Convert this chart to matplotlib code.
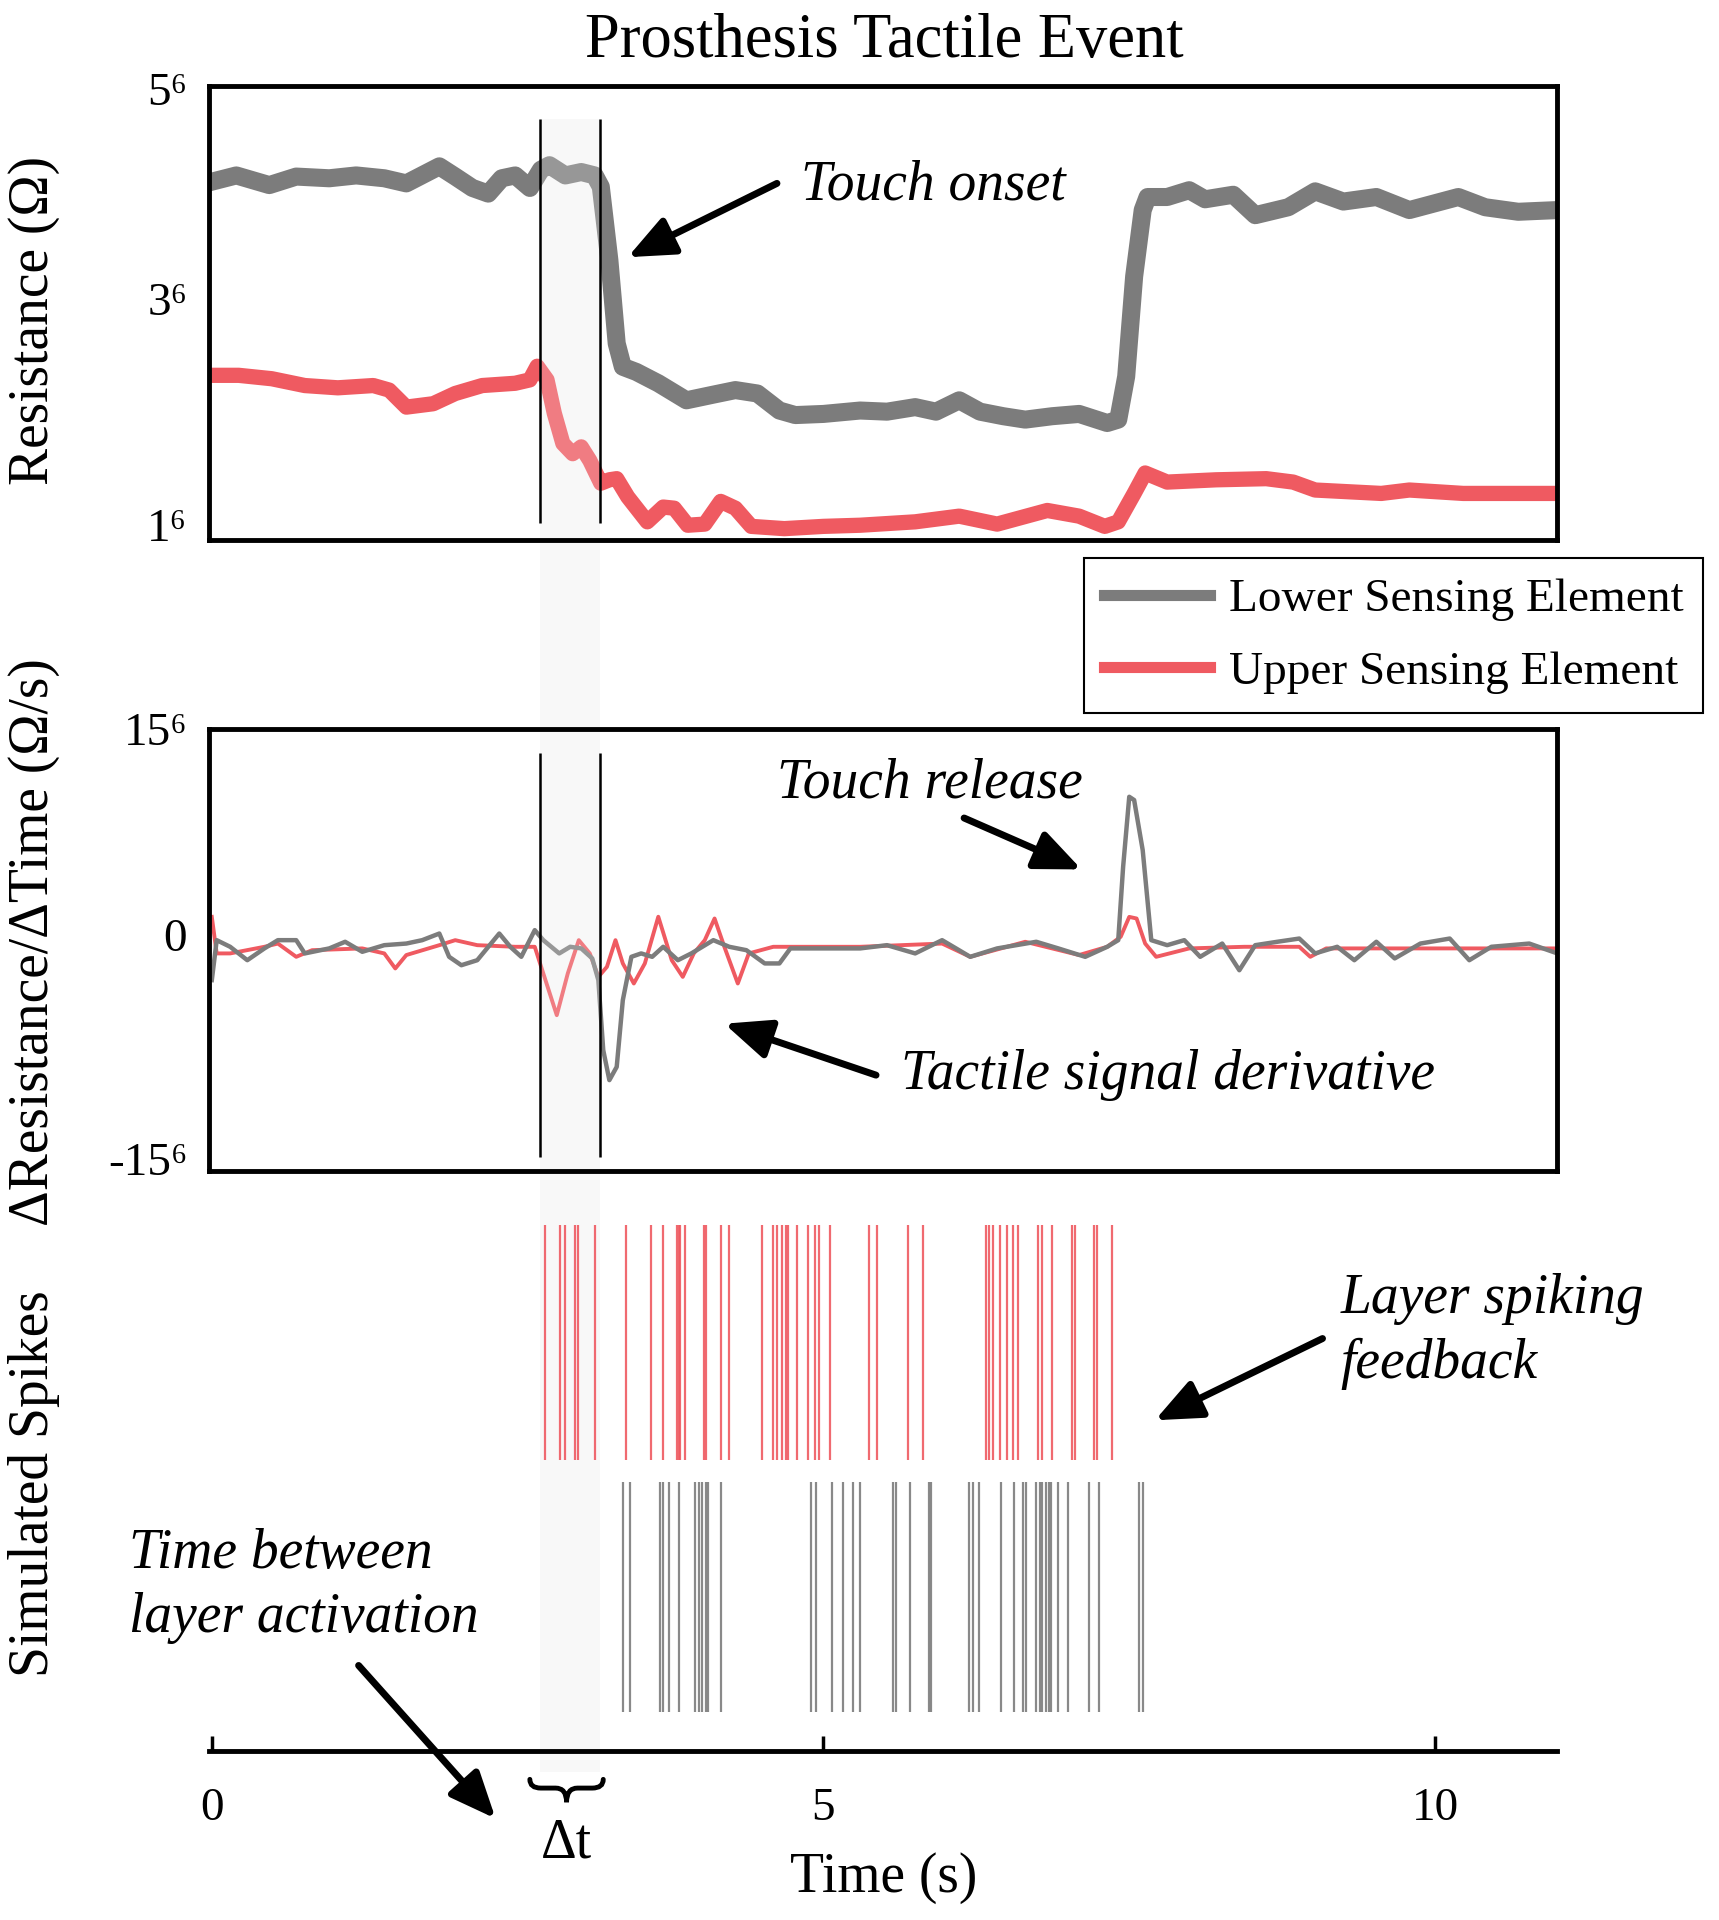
import matplotlib
matplotlib.use("Agg")
import matplotlib.pyplot as plt
import matplotlib.transforms as mtransforms
from matplotlib.lines import Line2D
from matplotlib.patches import Rectangle, PathPatch
from matplotlib.path import Path

plt.rcParams['font.family'] = ['Liberation Serif', 'DejaVu Serif']

# ---- data ----
# resistance traces (time in s, resistance in the axis' own units)
t_lower = [0.0, 0.20, 0.47, 0.69, 0.96, 1.18, 1.41, 1.59, 1.86, 1.99, 2.13, 2.26, 2.37, 2.48, 2.60, 2.69,
           2.76, 2.89, 3.02, 3.13, 3.18, 3.25, 3.31, 3.36, 3.47, 3.65, 3.88, 4.10, 4.28, 4.46, 4.64, 4.77,
           5.00, 5.30, 5.52, 5.75, 5.92, 6.11, 6.28, 6.47, 6.65, 6.87, 7.09, 7.32, 7.41, 7.475, 7.54, 7.61,
           7.65, 7.81, 7.99, 8.12, 8.35, 8.53, 8.80, 9.02, 9.25, 9.52, 9.79, 10.19, 10.41, 10.68, 11.0]
r_lower = [4.155, 4.21, 4.125, 4.20, 4.185, 4.21, 4.185, 4.14, 4.29, 4.20, 4.10, 4.05, 4.185, 4.21, 4.10, 4.26,
           4.30, 4.21, 4.24, 4.21, 4.11, 3.465, 2.73, 2.525, 2.48, 2.38, 2.23, 2.28, 2.32, 2.29, 2.14, 2.10,
           2.11, 2.14, 2.13, 2.17, 2.13, 2.23, 2.13, 2.09, 2.06, 2.09, 2.11, 2.03, 2.06, 2.44, 3.32, 3.905,
           4.02, 4.02, 4.08, 4.00, 4.04, 3.86, 3.93, 4.07, 3.98, 4.02, 3.905, 4.02, 3.93, 3.89, 3.905]

t_upper = [0.0, 0.22, 0.49, 0.76, 1.03, 1.32, 1.45, 1.59, 1.81, 1.99, 2.21, 2.48, 2.60, 2.66, 2.74, 2.80,
           2.87, 2.95, 3.02, 3.09, 3.18, 3.25, 3.31, 3.40, 3.56, 3.69, 3.78, 3.89, 4.03, 4.16, 4.28, 4.41,
           4.68, 5.00, 5.30, 5.75, 6.11, 6.42, 6.83, 7.09, 7.30, 7.41, 7.54, 7.63, 7.81, 8.21, 8.62, 8.84,
           9.02, 9.56, 9.79, 10.23, 11.0]
r_upper = [2.45, 2.45, 2.42, 2.36, 2.34, 2.36, 2.32, 2.17, 2.20, 2.29, 2.36, 2.38, 2.41, 2.53, 2.41, 2.115,
           1.85, 1.76, 1.82, 1.70, 1.50, 1.53, 1.54, 1.38, 1.16, 1.29, 1.28, 1.13, 1.14, 1.34, 1.28, 1.12,
           1.10, 1.12, 1.13, 1.16, 1.21, 1.14, 1.26, 1.21, 1.12, 1.16, 1.41, 1.59, 1.51, 1.53, 1.54, 1.51,
           1.44, 1.41, 1.44, 1.41, 1.41]

# derivative traces
td_lower = [0.0, 0.04, 0.15, 0.29, 0.43, 0.54, 0.69, 0.76, 0.96, 1.09,
            1.23, 1.41, 1.59, 1.72, 1.86, 1.94, 2.04, 2.17, 2.35, 2.44,
            2.53, 2.64, 2.71, 2.84, 2.93, 3.02, 3.11, 3.16, 3.20, 3.25,
            3.31, 3.36, 3.43, 3.51, 3.60, 3.69, 3.81, 3.92, 4.10, 4.23,
            4.37, 4.52, 4.64, 4.73, 5.00, 5.30, 5.52, 5.75, 5.97, 6.20,
            6.42, 6.74, 6.92, 7.14, 7.32, 7.41, 7.45, 7.50, 7.54, 7.61,
            7.68, 7.81, 7.95, 8.08, 8.26, 8.40, 8.53, 8.71, 8.89, 9.02,
            9.20, 9.34, 9.52, 9.67, 9.88, 10.12, 10.28, 10.46, 10.77, 11.0]
d_lower = [-2.07, 0.64, 0.19, -0.72, 0.08, 0.64, 0.64, -0.26, 0.08, 0.53,
           -0.15, 0.30, 0.41, 0.64, 1.09, -0.49, -1.06, -0.72, 1.09, 0.19,
           -0.49, 1.32, 0.64, -0.26, 0.19, 0.08, -0.60, -2.07, -6.83, -8.86,
           -7.96, -3.43, -0.49, -0.26, -0.49, 0.19, -0.72, -0.26, 0.64, 0.19,
           -0.04, -0.94, -0.94, 0.08, 0.08, 0.08, 0.30, -0.26, 0.64, -0.49,
           0.08, 0.53, 0.08, -0.49, 0.19, 0.64, 5.62, 10.37, 10.15, 6.75,
           0.64, 0.30, 0.64, -0.49, 0.41, -1.40, 0.30, 0.53, 0.75, -0.26,
           0.19, -0.72, 0.53, -0.60, 0.41, 0.75, -0.72, 0.19, 0.41, -0.26]

td_upper = [0.0, 0.04, 0.15, 0.43, 0.54, 0.69, 0.82, 1.23, 1.41, 1.50,
            1.59, 1.86, 1.99, 2.17, 2.48, 2.64, 2.71, 2.82, 2.91, 3.00,
            3.09, 3.16, 3.23, 3.30, 3.36, 3.45, 3.54, 3.65, 3.76, 3.85,
            3.94, 4.03, 4.11, 4.19, 4.30, 4.39, 4.59, 5.30, 5.97, 6.20,
            6.65, 7.09, 7.32, 7.43, 7.50, 7.56, 7.63, 7.72, 7.99, 8.44,
            8.89, 8.98, 9.11, 11.0]
d_upper = [2.22, -0.26, -0.26, 0.19, 0.41, -0.49, -0.04, 0.08, -0.26, -1.28,
           -0.37, 0.30, 0.64, 0.30, 0.19, 0.19, -1.62, -4.45, -1.62, 0.64,
           -0.26, -1.85, -1.17, 0.64, -0.94, -2.30, -0.94, 2.23, -0.72, -1.85,
           -0.26, 0.64, 2.11, 0.19, -2.30, -0.26, 0.19, 0.19, 0.41, -0.49,
           0.53, -0.37, 0.19, 0.87, 2.22, 2.11, 0.41, -0.49, 0.08, 0.19,
           0.19, -0.49, 0.08, 0.08]

# simulated spike times (s)
spikes_upper = [2.72, 2.85, 2.89, 2.97, 2.99, 3.13, 3.39, 3.59, 3.69, 3.80, 3.82, 3.83, 3.87, 4.02,
                4.04, 4.16, 4.23, 4.50, 4.59, 4.62, 4.66, 4.69, 4.71, 4.78, 4.87, 4.93, 4.96, 5.05,
                5.37, 5.44, 5.69, 5.81, 6.33, 6.35, 6.39, 6.44, 6.50, 6.55, 6.59, 6.75, 6.79, 6.87,
                7.03, 7.06, 7.21, 7.24, 7.36]
spikes_lower = [3.36, 3.42, 3.66, 3.69, 3.74, 3.82, 3.95, 3.98, 4.01, 4.04, 4.06, 4.16, 4.90, 4.94,
                5.07, 5.16, 5.24, 5.30, 5.57, 5.59, 5.71, 5.86, 5.88, 6.19, 6.22, 6.27, 6.45, 6.56,
                6.63, 6.66, 6.74, 6.77, 6.79, 6.82, 6.84, 6.86, 6.92, 7.00, 7.17, 7.25, 7.58, 7.61]

onset_upper = 2.68   # first layer activation
onset_lower = 3.17   # second layer activation

x_ticks = [0, 5, 10]
res_ticks = [1.13, 3.12, 4.97]
res_ticklabels = ['1⁶', '3⁶', '5⁶']
der_ticks = [-14.2, 1.0, 15]
der_ticklabels = ['-15⁶', '0', '15⁶']

GRAY = '#7c7c7c'
RED = '#ef5a61'
BAND = '#f8f8f8'

# ---- layout (positions measured on a 1404 x 1568 copy of the reference) ----
W, H = 1404, 1568


def box(l, t, r, b):
    return [l / W, 1 - b / H, (r - l) / W, (b - t) / H]


fig = plt.figure(figsize=(17.19, 19.2), dpi=100)
ax_r = fig.add_axes(box(171, 70, 1272, 441))
ax_d = fig.add_axes(box(171, 595, 1272, 956))
ax_s = fig.add_axes(box(171, 985, 1272, 1430))

for ax in (ax_r, ax_d, ax_s):
    ax.set_facecolor('none')
    ax.set_xlim(-0.02, 11.0)
    for sp in ax.spines.values():
        sp.set_linewidth(3.5)

# shaded window between the two layer onsets (runs through all panels)
trans = mtransforms.blended_transform_factory(ax_r.transData, fig.transFigure)
fig.add_artist(Rectangle((onset_upper, 1 - 1447 / H), onset_lower - onset_upper, (1447 - 97) / H,
                         transform=trans, facecolor=BAND, edgecolor='none', zorder=-1))

# resistance panel
ax_r.plot(t_lower, r_lower, color=GRAY, lw=13, zorder=2)
ax_r.plot(t_upper, r_upper, color=RED, lw=11, zorder=2)
ax_r.axvspan(onset_upper, onset_lower, 0, 0.927, color=BAND, alpha=0.22, lw=0, zorder=2.2)
ax_r.vlines([onset_upper, onset_lower], 0.038, 0.927, transform=ax_r.get_xaxis_transform(),
            color='black', lw=1.8, zorder=3)
ax_r.set_ylim(1, 5)
ax_r.set_yticks(res_ticks)
ax_r.set_yticklabels(res_ticklabels)
ax_r.set_xticks([])
ax_r.tick_params(axis='y', length=0, pad=16, labelsize=34)

# derivative panel
ax_d.plot(td_upper, d_upper, color=RED, lw=2.8, zorder=2)
ax_d.plot(td_lower, d_lower, color=GRAY, lw=3.2, zorder=2)
ax_d.axvspan(onset_upper, onset_lower, color=BAND, alpha=0.22, lw=0, zorder=2.2)
ax_d.vlines([onset_upper, onset_lower], 0.03, 0.945, transform=ax_d.get_xaxis_transform(),
            color='black', lw=1.8, zorder=3)
ax_d.set_ylim(-15, 15)
ax_d.set_yticks(der_ticks)
ax_d.set_yticklabels(der_ticklabels)
ax_d.set_xticks([])
ax_d.tick_params(axis='y', length=0, pad=16, labelsize=34)

# spike raster panel
ax_s.vlines(spikes_upper, 0.535, 0.966, color=RED, lw=1.6, alpha=0.9)
ax_s.vlines(spikes_lower, 0.072, 0.494, color=GRAY, lw=1.6, alpha=0.9)
ax_s.set_ylim(0, 1)
ax_s.set_yticks([])
for side in ('top', 'left', 'right'):
    ax_s.spines[side].set_visible(False)
ax_s.set_xticks(x_ticks)
ax_s.set_xticklabels([str(v) for v in x_ticks])
ax_s.tick_params(axis='x', direction='in', length=11, width=2.5, pad=26, labelsize=34)
ax_s.set_xlabel('Time (s)', fontsize=40, labelpad=16)

# annotations
arrow = dict(arrowstyle='-|>,head_length=0.7,head_width=0.3', lw=5, color='black',
             mutation_scale=40, shrinkA=0, shrinkB=0)
ax_r.text(4.82, 4.12, 'Touch onset', fontsize=40, style='italic', ha='left', va='center')
ax_r.annotate('', xy=(3.40, 3.49), xytext=(4.62, 4.14), arrowprops=arrow)

ax_d.text(4.62, 11.26, 'Touch release', fontsize=40, style='italic', ha='left', va='center')
ax_d.annotate('', xy=(7.11, 5.44), xytext=(6.15, 8.93), arrowprops=arrow)

ax_d.text(5.63, -8.52, 'Tactile signal derivative', fontsize=40, style='italic', ha='left', va='center')
ax_d.annotate('', xy=(4.19, -5.03), xytext=(5.43, -8.52), arrowprops=arrow)

ax_s.text(9.23, 0.77, 'Layer spiking\nfeedback', fontsize=40, style='italic', ha='left', va='center',
          linespacing=1.32)
ax_s.annotate('', xy=(7.71, 0.607), xytext=(9.08, 0.757), arrowprops=arrow)

ax_s.text(-0.68, 0.303, 'Time between\nlayer activation', fontsize=40, style='italic',
          ha='left', va='center', linespacing=1.32)
ax_s.annotate('', xy=(2.32, -0.124), xytext=(1.20, 0.157), arrowprops=arrow, annotation_clip=False)

# curly brace under the onset window, then the delta-t label
x0, x1 = onset_upper - 0.08, onset_lower + 0.03
xm = (x0 + x1) / 2
q = 0.09
y_end, y_mid, y_tip = -0.052, -0.068, -0.094
brace = Path([(x0, y_end), (x0, y_mid), (x0 + q, y_mid),
              (xm - q, y_mid), (xm, y_mid), (xm, y_tip),
              (xm, y_mid), (xm + q, y_mid),
              (x1 - q, y_mid), (x1, y_mid), (x1, y_end)],
             [Path.MOVETO, Path.CURVE3, Path.CURVE3,
              Path.LINETO, Path.CURVE3, Path.CURVE3,
              Path.CURVE3, Path.CURVE3,
              Path.LINETO, Path.CURVE3, Path.CURVE3])
ax_s.add_patch(PathPatch(brace, transform=ax_s.get_xaxis_transform(), facecolor='none',
                         edgecolor='black', lw=3.5, clip_on=False, capstyle='round'))
ax_s.text(xm, -0.169, 'Δt', fontsize=40, ha='center', va='center')

# legend
handles = [Line2D([], [], color=GRAY, lw=8), Line2D([], [], color=RED, lw=8)]
leg = fig.legend(handles, ['Lower Sensing Element', 'Upper Sensing Element'],
                 loc='upper right', bbox_to_anchor=(1391 / W, 1 - 456 / H),
                 bbox_transform=fig.transFigure, fontsize=34, frameon=True, fancybox=False,
                 edgecolor='black', framealpha=1, handlelength=2.25, handletextpad=0.39,
                 labelspacing=0.62, borderpad=0.42, borderaxespad=0)
leg.get_frame().set_linewidth(1.5)

# titles and axis labels
fig.text(722 / W, 1 - 34 / H, 'Prosthesis Tactile Event', fontsize=45, ha='center', va='center')
fig.text(28 / W, 1 - 262 / H, 'Resistance (Ω)', fontsize=40, rotation=90, ha='center', va='center')
fig.text(28 / W, 1 - 769 / H, 'ΔResistance/ΔTime (Ω/s)', fontsize=40, rotation=90,
         ha='center', va='center')
fig.text(28 / W, 1 - 1212 / H, 'Simulated Spikes', fontsize=40, rotation=90, ha='center', va='center')

fig.savefig('out.png', dpi=100)
